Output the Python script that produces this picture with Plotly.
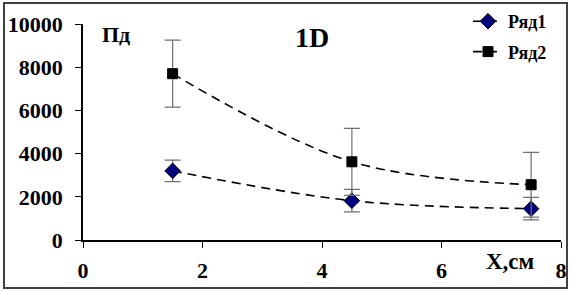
import plotly.graph_objects as go

x_vals = [1.5, 4.5, 7.5]
row1 = [3200, 1820, 1450]
row1_err = [500, 520, 520]
row2 = [7700, 3620, 2560]
row2_err = [1550, 1550, 1500]
y_ticks = [0, 2000, 4000, 6000, 8000, 10000]
y_tick_text = ["0", "2000", "4000", "6000", "8000", "10000"]
x_ticks = [0, 2, 4, 6, 8]

FONT = "Liberation Serif, Times New Roman, serif"
W, H = 571, 291
L, R, T, B = 83, 10, 24, 51
pw, ph = W - L - R, H - T - B

fig = go.Figure()
fig.add_trace(go.Scatter(
    x=x_vals, y=row1, name="Ряд1", mode="lines+markers",
    line=dict(color="black", width=1.6, dash="9px,6px", shape="spline", smoothing=1),
    marker=dict(symbol="diamond", size=12, color="#000080", line=dict(color="black", width=1)),
    error_y=dict(type="data", array=row1_err, color="#707070", thickness=1.2, width=8),
    legendgroup="a"))
fig.add_trace(go.Scatter(
    x=x_vals, y=row2, name="Ряд2", mode="lines+markers",
    line=dict(color="black", width=1.6, dash="9px,6px", shape="spline", smoothing=1),
    marker=dict(symbol="square", size=10, color="black", line=dict(color="black", width=1)),
    error_y=dict(type="data", array=row2_err, color="#707070", thickness=1.2, width=8),
    legendgroup="b"))

def px_x(p):
    return (p - L) / pw

def px_y(p):
    return (H - B - p) / ph

fig.update_layout(
    width=W, height=H, autosize=False,
    margin=dict(l=L, r=R, t=T, b=B, autoexpand=False),
    paper_bgcolor="white", plot_bgcolor="white",
    font=dict(family=FONT, color="black", size=20, weight="bold"),
    showlegend=True,
    legend=dict(x=px_x(468), y=px_y(3), xanchor="left", yanchor="top",
                font=dict(family=FONT, size=18, weight="bold"),
                bgcolor="rgba(0,0,0,0)", tracegroupgap=4),
    xaxis=dict(range=[0, 8], tickvals=x_ticks, showgrid=False, zeroline=False,
               showline=True, linecolor="black", linewidth=1.5,
               ticks="outside", ticklen=6, tickcolor="black", tickwidth=1.2,
               tickfont=dict(family=FONT, size=22, weight="bold"), ticklabelstandoff=4),
    yaxis=dict(range=[0, 10000], tickvals=y_ticks, ticktext=y_tick_text, showgrid=False, zeroline=False,
               showline=True, linecolor="black", linewidth=1.5,
               ticks="outside", ticklen=6, tickcolor="black", tickwidth=1.2,
               tickfont=dict(family=FONT, size=22, weight="bold"), ticklabelstandoff=8),
    shapes=[dict(type="rect", xref="paper", yref="paper",
                 x0=px_x(4), x1=px_x(567), y0=px_y(288), y1=px_y(3),
                 line=dict(color="#404040", width=2), fillcolor="rgba(0,0,0,0)", layer="below")],
    annotations=[
        dict(text="Пд", xref="paper", yref="paper", x=px_x(116), y=px_y(34), showarrow=False,
             font=dict(family=FONT, size=22, weight="bold"), xanchor="center", yanchor="middle"),
        dict(text="1D", xref="paper", yref="paper", x=px_x(312), y=px_y(38), showarrow=False,
             font=dict(family=FONT, size=28, weight="bold"), xanchor="center", yanchor="middle"),
        dict(text="X,см", xref="paper", yref="paper", x=px_x(510), y=px_y(261), showarrow=False,
             font=dict(family=FONT, size=23, weight="bold"), xanchor="center", yanchor="middle"),
    ],
)

fig.write_html("out.html", config={"displayModeBar": False},
               post_script="document.body.style.margin='0';document.body.style.overflow='hidden';")
